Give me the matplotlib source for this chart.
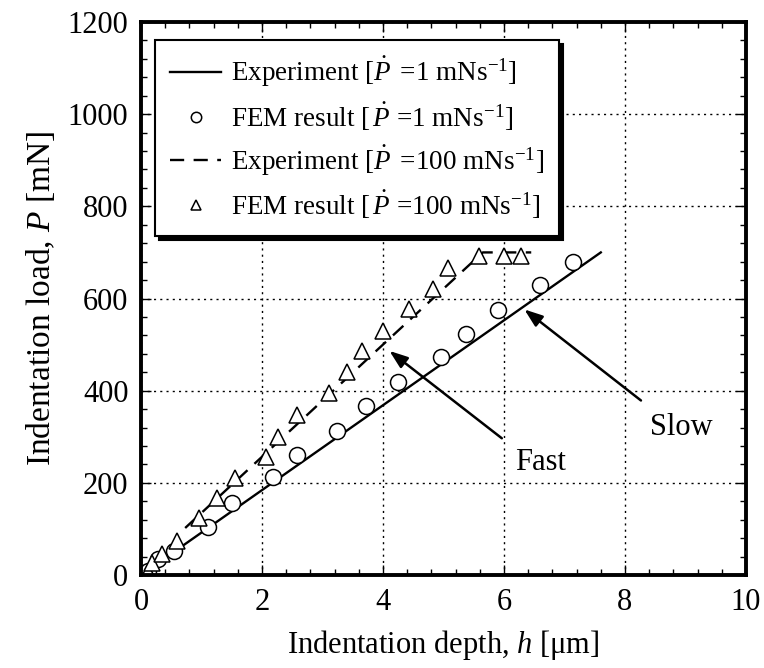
import matplotlib
matplotlib.use("Agg")
import matplotlib.pyplot as plt
from matplotlib.ticker import MultipleLocator

plt.rcParams['font.family'] = ['Liberation Serif', 'DejaVu Serif']
plt.rcParams['mathtext.fontset'] = 'custom'
plt.rcParams['mathtext.rm'] = 'Liberation Serif'
plt.rcParams['mathtext.it'] = 'Liberation Serif:italic'

# Experiment, slow (1 mN/s)
exp_slow_h = [0.0, 7.6]
exp_slow_P = [0, 700]
# Experiment, fast (100 mN/s)
exp_fast_h = [0.73, 4.0, 5.65, 6.45]
exp_fast_P = [102, 500, 700, 700]
# FEM slow
fem_slow_h = [0.12, 0.28, 0.54, 1.11, 1.5, 2.19, 2.58, 3.24, 3.72, 4.24, 4.96, 5.37, 5.9, 6.6, 7.14]
fem_slow_P = [8, 35, 51, 104, 156, 213, 260, 312, 367, 418, 473, 523, 575, 629, 679]
# FEM fast
fem_fast_h = [0.11, 0.18, 0.35, 0.6, 0.96, 1.26, 1.55, 2.07, 2.27, 2.58, 3.1, 3.4, 3.66, 4.0, 4.43, 4.83, 5.08, 5.59, 6.0, 6.28]
fem_fast_P = [6, 26, 46, 74, 124, 167, 210, 256, 299, 347, 395, 440, 486, 530, 577, 620, 666, 692, 692, 692]

fig = plt.figure(figsize=(7.64, 6.68), dpi=100)
ax = fig.add_axes([141/764, 1-575/668, 605/764, 553/668])

ax.plot(exp_slow_h, exp_slow_P, '-', color='black', lw=1.7,
        label=r'Experiment [$\dot{P}$ $\,$=1 mNs$^{\mathregular{-1}}$]')
ax.plot(fem_slow_h, fem_slow_P, 'o', mfc='white', mec='black', ms=11.5, mew=1.1,
        label=r'FEM result [$\,\dot{P}$ =1 mNs$^{\mathregular{-1}}$]')
ax.plot(exp_fast_h, exp_fast_P, '--', color='black', lw=1.7, dashes=(6, 4),
        label=r'Experiment [$\dot{P}$ $\,$=100 mNs$^{\mathregular{-1}}$]')
ax.plot(fem_fast_h, fem_fast_P, '^', mfc='white', mec='black', ms=11, mew=1.1,
        label=r'FEM result [$\,\dot{P}$ =100 mNs$^{\mathregular{-1}}$]')

ax.set_xlim(0, 10)
ax.set_ylim(0, 1200)
ax.xaxis.set_major_locator(MultipleLocator(2))
ax.xaxis.set_minor_locator(MultipleLocator(0.4))
ax.yaxis.set_major_locator(MultipleLocator(200))
ax.yaxis.set_minor_locator(MultipleLocator(40))
ax.grid(True, which='major', linestyle=(0, (1.5, 3)), color='black', lw=1.0)
ax.tick_params(which='both', direction='in', top=True, right=True, labelsize=22, width=1.0)
ax.tick_params(which='major', length=7, pad=9)
ax.tick_params(which='minor', length=4)
for s in ax.spines.values():
    s.set_linewidth(2.8)

ax.set_xlabel(r'Indentation depth, $\mathit{h}$ [$\mathregular{\mu}$m]', fontsize=22, labelpad=8)
ax.set_ylabel(r'Indentation load, $\mathit{P}$ [mN]', fontsize=24, labelpad=8)

ax.annotate('', xy=(6.3, 580), xytext=(8.3, 375),
            arrowprops=dict(arrowstyle='-|>,head_length=1.1,head_width=0.4', color='black', lw=1.8))
ax.text(8.93, 321, 'Slow', fontsize=22, ha='center', va='center')
ax.annotate('', xy=(4.07, 490), xytext=(6.0, 293),
            arrowprops=dict(arrowstyle='-|>,head_length=1.1,head_width=0.4', color='black', lw=1.8))
ax.text(6.6, 245, 'Fast', fontsize=22, ha='center', va='center')

leg = ax.legend(loc='upper left', bbox_to_anchor=(0.023, 0.967), borderaxespad=0,
                fontsize=19.5, frameon=True, fancybox=False, framealpha=1,
                edgecolor='black', markerscale=0.65, handlelength=1.9,
                labelspacing=0.4, borderpad=0.55, handletextpad=0.35,
                shadow={'color': 'black', 'alpha': 1, 'ox': 3, 'oy': -3})
leg.get_frame().set_linewidth(1.5)

fig.savefig('out.png', dpi=100)
